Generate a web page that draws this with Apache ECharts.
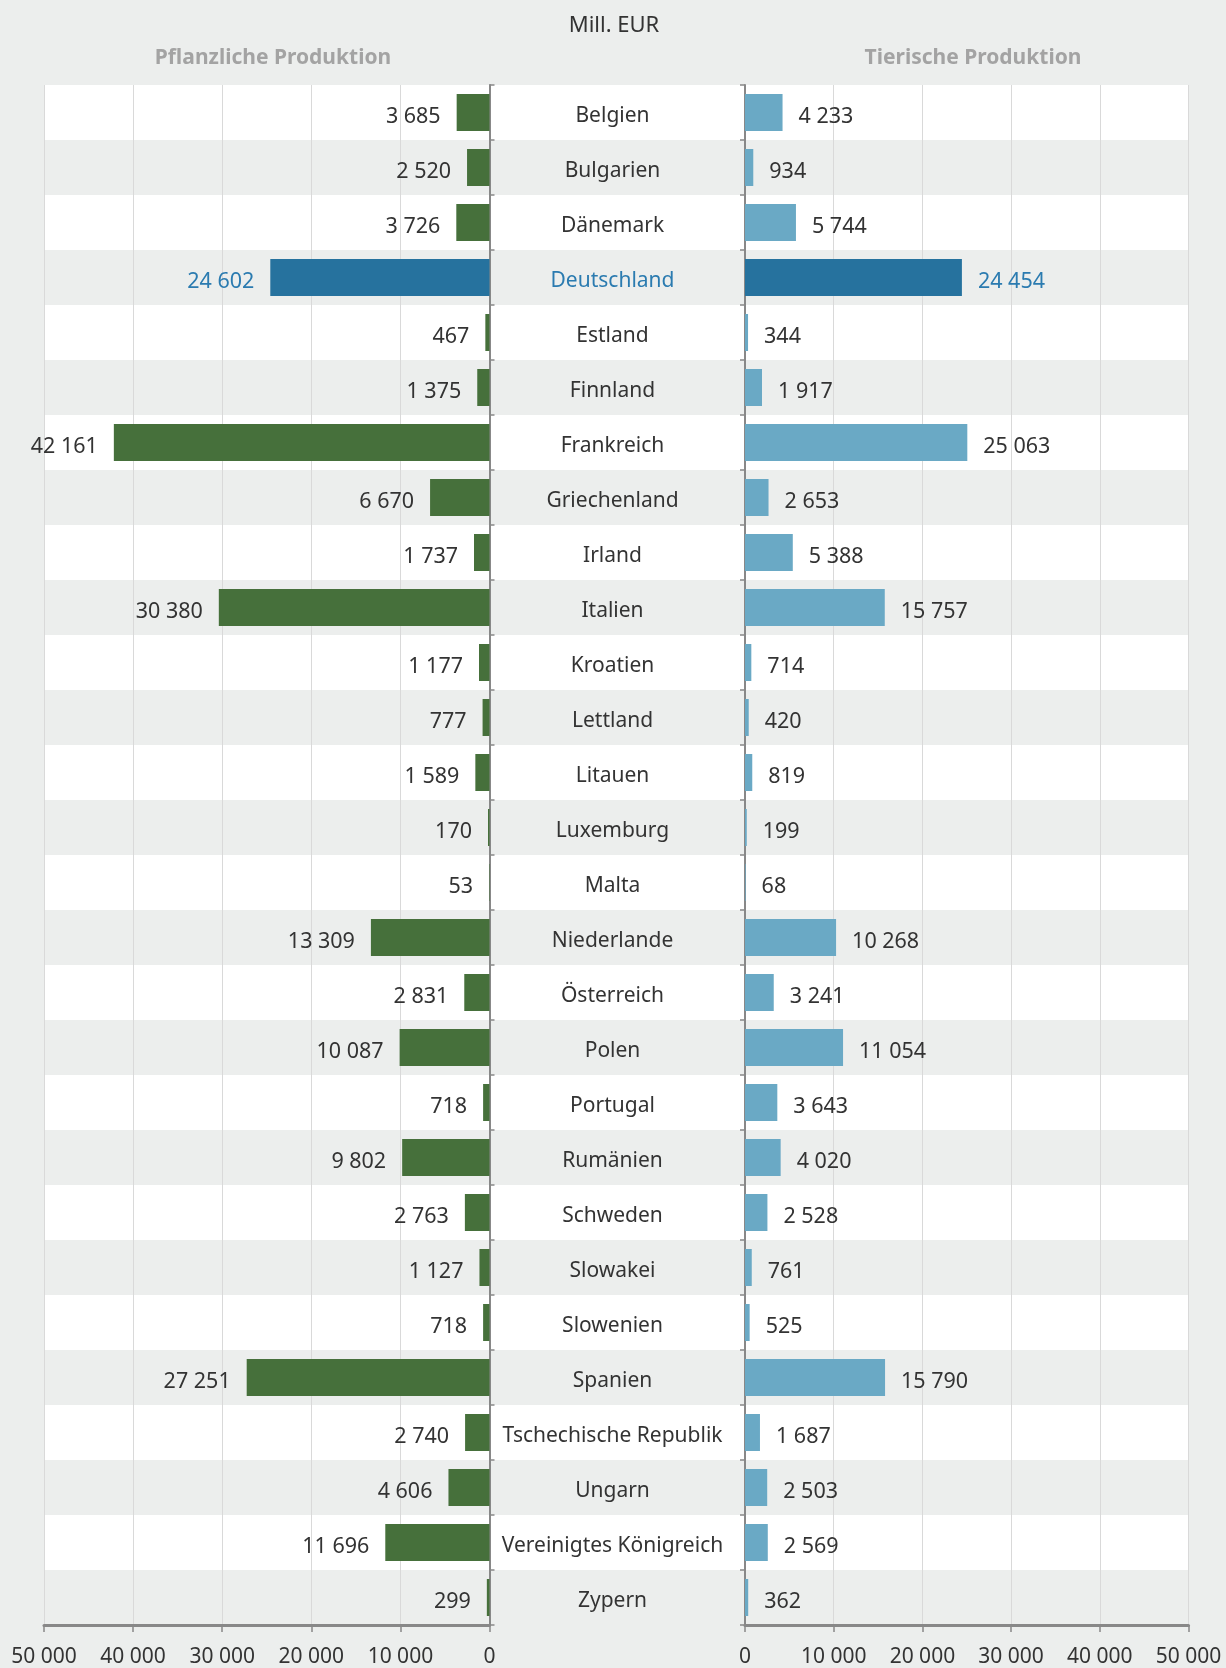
<!DOCTYPE html>
<html>
<head>
<meta charset="utf-8">
<script src="https://cdn.jsdelivr.net/npm/echarts@6/dist/echarts.min.js"></script>
<style>
html,body{margin:0;padding:0;background:#eceeed;}
#chart{width:1226px;height:1668px;}
</style>
</head>
<body>
<div id="chart"></div>
<script>
const categories = ["Belgien","Bulgarien","Dänemark","Deutschland","Estland","Finnland","Frankreich","Griechenland","Irland","Italien","Kroatien","Lettland","Litauen","Luxemburg","Malta","Niederlande","Österreich","Polen","Portugal","Rumänien","Schweden","Slowakei","Slowenien","Spanien","Tschechische Republik","Ungarn","Vereinigtes Königreich","Zypern"];
const pflanzlich = [3685,2520,3726,24602,467,1375,42161,6670,1737,30380,1177,777,1589,170,53,13309,2831,10087,718,9802,2763,1127,718,27251,2740,4606,11696,299];
const tierisch = [4233,934,5744,24454,344,1917,25063,2653,5388,15757,714,420,819,199,68,10268,3241,11054,3643,4020,2528,761,525,15790,1687,2503,2569,362];
const axisTicks = [0,10000,20000,30000,40000,50000];
const unitTitle = "Mill. EUR";
const leftTitle = "Pflanzliche Produktion";
const rightTitle = "Tierische Produktion";
const highlight = "Deutschland";

const FONT = "Noto Sans";
const fmt = v => String(v).replace(/\B(?=(\d{3})+(?!\d))/g, " ");
const isHi = i => categories[i] === highlight;

function barData(arr, color) {
  return arr.map((v, i) => ({
    value: v,
    itemStyle: { color: isHi(i) ? "#26729e" : color },
    label: { color: isHi(i) ? "#2b7bb0" : "#333333" }
  }));
}

const chart = echarts.init(document.getElementById("chart"), null, { renderer: "canvas" });
const gridTop = 85, gridH = 1540;
const valueAxisCommon = {
  type: "value", min: axisTicks[0], max: axisTicks[axisTicks.length - 1], interval: 10000,
  position: "bottom", z: 1,
  axisLine: { show: true, lineStyle: { color: "#888888", width: 3 } },
  axisTick: { show: true, length: 7, lineStyle: { color: "#888888", width: 1.5 } },
  axisLabel: { formatter: fmt, fontFamily: FONT, fontSize: 21, color: "#333333", margin: 22 },
  splitLine: { show: true, lineStyle: { color: "#d9d9d9", width: 1 } }
};
chart.setOption({
  backgroundColor: "#eceeed",
  animation: false,
  title: [
    { text: unitTitle, left: 609, top: 10, textAlign: "center", textStyle: { fontFamily: FONT, fontSize: 22, fontWeight: "normal", color: "#333333" } },
    { text: leftTitle, left: 268, top: 43, textAlign: "center", textStyle: { fontFamily: FONT, fontSize: 21, fontWeight: "bold", color: "#a3a3a3" } },
    { text: rightTitle, left: 968, top: 43, textAlign: "center", textStyle: { fontFamily: FONT, fontSize: 21, fontWeight: "bold", color: "#a3a3a3" } }
  ],
  grid: [
    { left: 44, width: 445.5, top: gridTop, height: gridH },
    { left: 745, width: 443.5, top: gridTop, height: gridH },
    { left: 44, width: 1144.5, top: gridTop, height: gridH }
  ],
  xAxis: [
    Object.assign({}, valueAxisCommon, { gridIndex: 0, inverse: true }),
    Object.assign({}, valueAxisCommon, { gridIndex: 1 }),
    { type: "value", gridIndex: 2, show: false, min: 0, max: 1 }
  ],
  yAxis: [
    { type: "category", gridIndex: 0, data: categories, inverse: true, position: "right", z: 1,
      axisLine: { show: true, lineStyle: { color: "#888888", width: 2 } },
      axisTick: { show: true, length: 5, lineStyle: { color: "#888888", width: 1.5 } },
      axisLabel: { show: true, margin: 123, align: "center", verticalAlign: "top", lineHeight: 8,
        fontFamily: FONT, fontSize: 21,
        color: (v) => v === highlight ? "#2b7bb0" : "#333333" },
      splitLine: { show: false } },
    { type: "category", gridIndex: 1, data: categories, inverse: true, position: "left", z: 1,
      axisLine: { show: true, lineStyle: { color: "#888888", width: 2 } },
      axisTick: { show: true, length: 5, lineStyle: { color: "#888888", width: 1.5 } },
      axisLabel: { show: false }, splitLine: { show: false } },
    { type: "category", gridIndex: 2, data: categories, inverse: true, z: 0,
      axisLine: { show: false }, axisTick: { show: false }, axisLabel: { show: false },
      splitLine: { show: false },
      splitArea: { show: true, areaStyle: { color: ["#ffffff", "#eceeed"] } } }
  ],
  series: [
    { type: "bar", xAxisIndex: 0, yAxisIndex: 0, barWidth: 37, data: barData(pflanzlich, "#46703b"),
      label: { show: true, position: "left", distance: 16, offset: [0, 4], formatter: p => fmt(p.value), fontFamily: FONT, fontSize: 21.5 } },
    { type: "bar", xAxisIndex: 1, yAxisIndex: 1, barWidth: 37, data: barData(tierisch, "#6aa9c5"),
      label: { show: true, position: "right", distance: 16, offset: [0, 4], formatter: p => fmt(p.value), fontFamily: FONT, fontSize: 21.5 } }
  ]
});
</script>
</body>
</html>
